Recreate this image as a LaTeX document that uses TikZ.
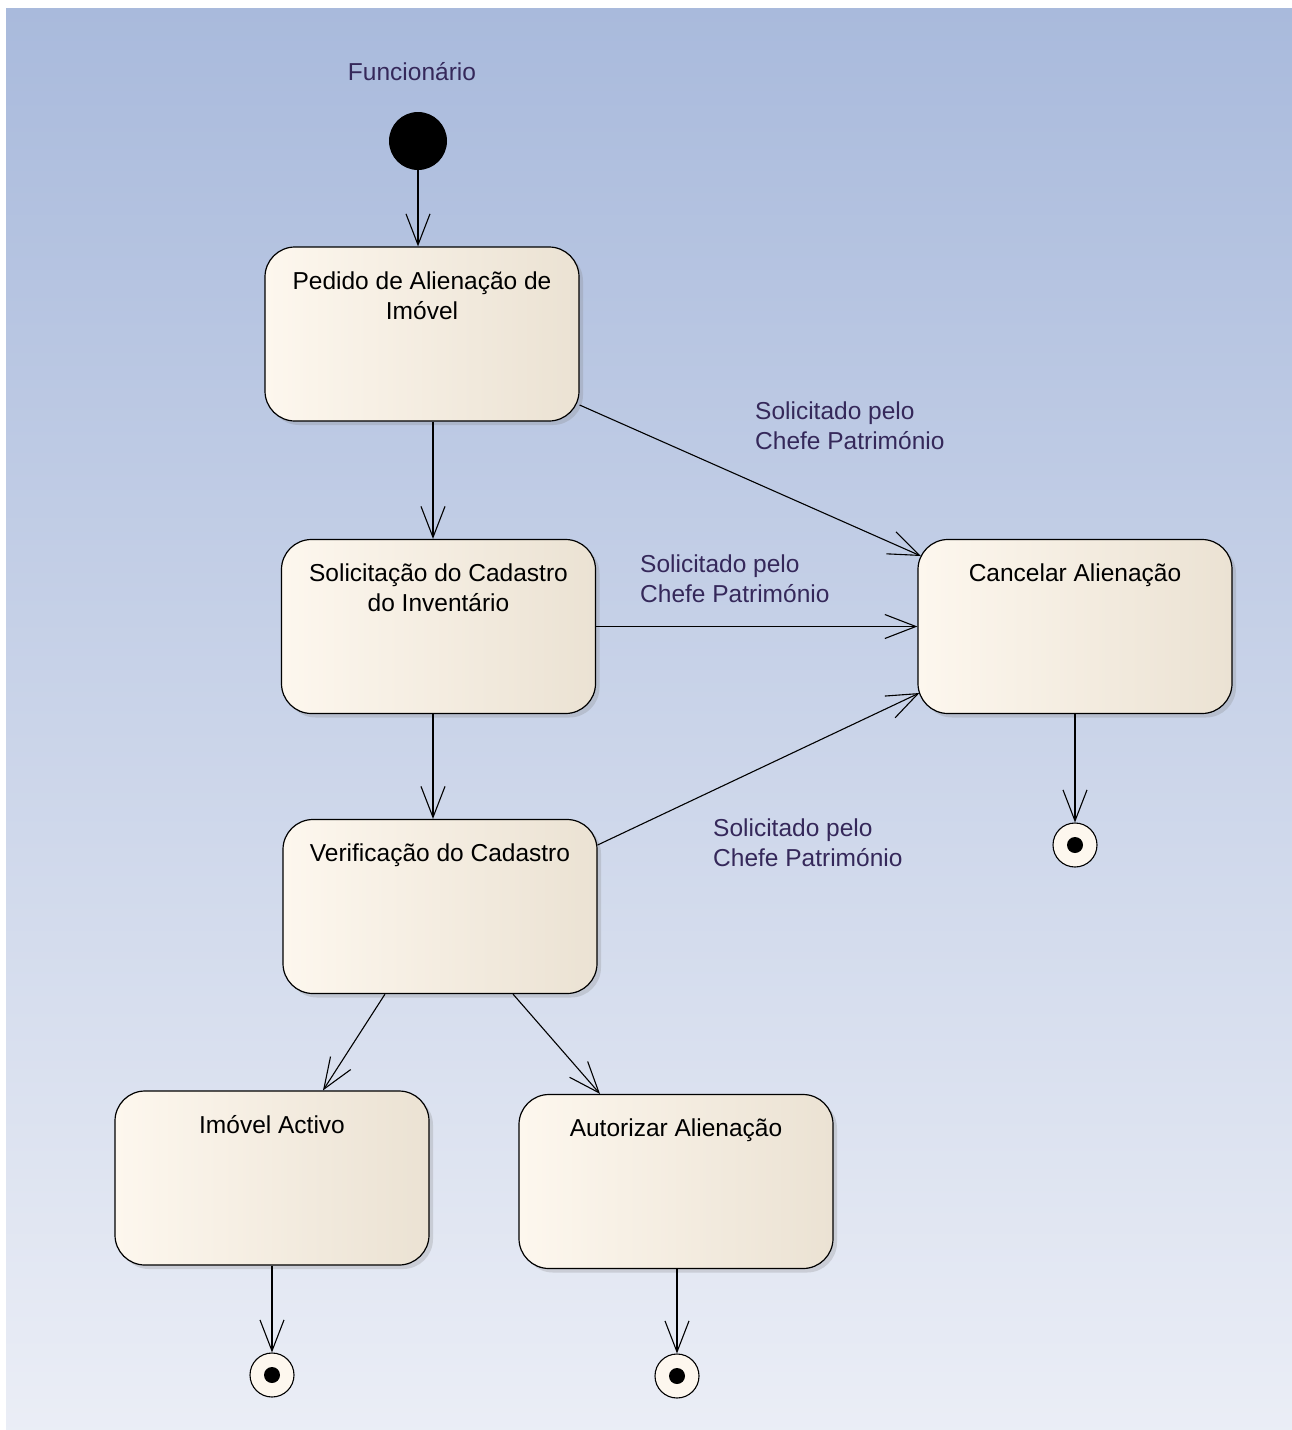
\documentclass[tikz,border=0pt]{standalone}
\usepackage{fontspec}
\setmainfont{Liberation Sans}
\usetikzlibrary{arrows.meta,shadows}
\definecolor{bgtop}{HTML}{A9BADC}
\definecolor{bgbot}{HTML}{EBEEF6}
\definecolor{creaml}{HTML}{FDF7EE}
\definecolor{creamr}{HTML}{EBE2D3}
\definecolor{guardc}{HTML}{35285A}
\newcommand{\statefont}{\fontsize{24.5}{30}\selectfont}

\begin{document}
\begin{tikzpicture}[
    x = 1pt,
    y = -1pt,
    actstate/.style = {draw, line width=1.2pt, rounded corners=30pt,
      minimum width=314pt, minimum height=174pt,
      left color=creaml, right color=creamr,
      drop shadow={shadow xshift=4pt, shadow yshift=-4pt, opacity=0.25}},
    statename/.style = {anchor=north, yshift=-25pt, align=center,
      inner sep=0pt, font=\statefont, text=black},
    startdot/.style = {circle, fill=black, minimum size=58pt, inner sep=0pt},
    enddot/.style = {circle, draw, line width=1.1pt, fill=creaml,
      minimum size=44pt, inner sep=0pt,
      path picture={\fill[black] (path picture bounding box.center) circle (8pt);}},
    trans/.style = {line width=1.1pt,
      -{Straight Barb[length=31pt, width=24pt, line width=1.1pt]}},
    guard/.style = {anchor=north west, align=left, inner sep=0pt,
      font=\statefont, text=guardc},
    ]
    \useasboundingbox (0,0) rectangle (1292,1430);
    % background
    \fill[white] (0,0) rectangle (1292,1430);
    \shade[top color=bgtop, bottom color=bgbot] (6,8) rectangle (1300,1440);
    % start
    \node[font=\statefont, text=guardc] (actor) at (412,72) {Funcionário};
    \node[startdot] (ini) at (418,141) {};
    % states
    \node[actstate, label={[statename]north:{Pedido de Alienação de\\Imóvel}}]
    (pedido) at (422,334) {};
    \node[actstate, label={[statename]north:{Solicitação do Cadastro\\do Inventário}}]
    (solicit) at (438.5,626.5) {};
    \node[actstate, label={[statename]north:{Verificação do Cadastro}}]
    (verif) at (440,906.5) {};
    \node[actstate, label={[statename]north:{Cancelar Alienação}}]
    (cancel) at (1075,626.5) {};
    \node[actstate, label={[statename]north:{Imóvel Activo}}]
    (imovel) at (272,1178) {};
    \node[actstate, label={[statename]north:{Autorizar Alienação}}]
    (autoriz) at (676,1181.5) {};
    % final states
    \node[enddot] (fim1) at (1075,845) {};
    \node[enddot] (fim2) at (272,1375) {};
    \node[enddot] (fim3) at (677,1376) {};
    % transitions
    \draw[trans] (ini) -- (ini |- pedido.north);
    \draw[trans] ([xshift=11pt]pedido.south) -- ([xshift=-5.5pt]solicit.north);
    \draw[trans] ([xshift=-5.5pt]solicit.south) -- ([xshift=-7pt]verif.north);
    \draw[trans] ([yshift=-71pt]pedido.east) -- ([xshift=3.5pt, yshift=70.5pt]cancel.west);
    \draw[trans] (solicit.east) -- (cancel.west);
    \draw[trans] ([yshift=61.5pt]verif.east) -- ([xshift=2pt, yshift=-66.5pt]cancel.west);
    \draw[trans] ([xshift=-55pt]verif.south) -- ([xshift=51pt]imovel.north);
    \draw[trans] ([xshift=73pt]verif.south) -- ([xshift=-76pt]autoriz.north);
    \draw[trans] (cancel.south) -- (fim1.north);
    \draw[trans] (imovel.south) -- (fim2.north);
    \draw[trans] ([xshift=1pt]autoriz.south) -- (fim3.north);
    % guards
    \node[guard] (g1) at (755,402) {Solicitado pelo\\Chefe Património};
    \node[guard] (g2) at (640,555) {Solicitado pelo\\Chefe Património};
    \node[guard] (g3) at (713,819) {Solicitado pelo\\Chefe Património};
\end{tikzpicture}
\end{document}
